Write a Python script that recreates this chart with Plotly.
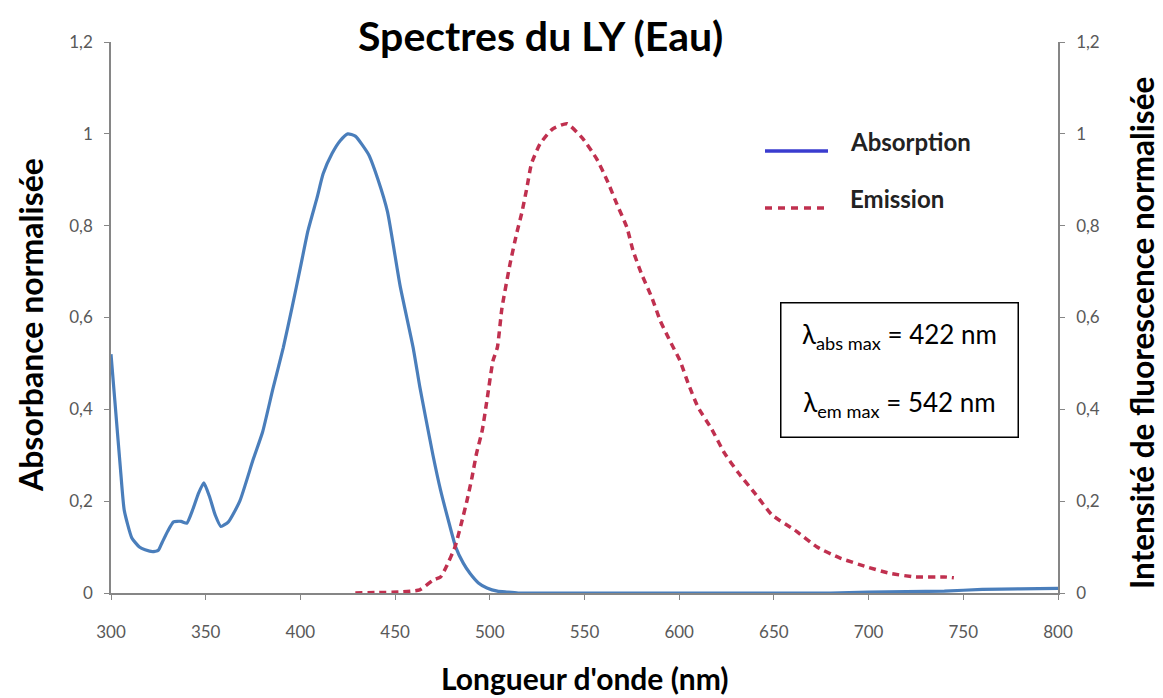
import plotly.graph_objects as go

# Absorption (blue, left axis)
abs_x = [300, 302, 305, 307, 311, 315, 318, 322, 325, 327, 330, 333, 337, 340, 343, 346, 349,
         352, 355, 358, 362, 368, 375, 380, 385.5, 391, 395.6, 400, 404, 408.8, 412, 416.7,
         421, 425, 429, 436, 441, 446, 452.6, 459.5, 463, 466, 470, 474, 478, 482, 486, 489.5,
         494, 498.5, 504, 509, 515, 560, 620, 680, 700, 720, 740, 760, 780, 800]
abs_y = [0.52, 0.42, 0.27, 0.18, 0.12, 0.10, 0.094, 0.09, 0.093, 0.11, 0.135, 0.155, 0.156,
         0.152, 0.18, 0.215, 0.24, 0.21, 0.17, 0.145, 0.155, 0.20, 0.29, 0.35, 0.445, 0.535,
         0.622, 0.709, 0.789, 0.861, 0.913, 0.957, 0.985, 1.0, 0.995, 0.955, 0.90, 0.83, 0.67,
         0.535, 0.45, 0.385, 0.30, 0.224, 0.16, 0.10, 0.065, 0.043, 0.022, 0.011, 0.004, 0.002,
         0.0, 0.0, 0.0, 0.0, 0.002, 0.003, 0.004, 0.008, 0.009, 0.01]

# Emission (red dashed, right axis)
em_x = [429, 440, 452, 463, 470, 474, 477, 481.6, 485, 488, 490.6, 493, 496, 498.5, 501.7,
        504, 506.4, 510.7, 514, 517, 519.6, 522, 526.5, 533, 540.8, 549, 556.5, 562, 567,
        572.4, 575.6, 580, 585.6, 590, 595, 600.4, 604.7, 610, 617, 624, 631, 640, 649, 661,
        672.8, 685, 699, 711, 724.5, 740, 745]
em_y = [0.0, 0.001, 0.002, 0.007, 0.028, 0.035, 0.057, 0.10, 0.152, 0.202, 0.252, 0.304,
        0.354, 0.42, 0.506, 0.535, 0.62, 0.717, 0.78, 0.83, 0.883, 0.935, 0.978, 1.01, 1.022,
        0.99, 0.945, 0.898, 0.848, 0.796, 0.746, 0.696, 0.643, 0.593, 0.55, 0.506, 0.457,
        0.404, 0.358, 0.304, 0.263, 0.217, 0.17, 0.137, 0.10, 0.076, 0.057, 0.043, 0.035,
        0.035, 0.033]

x_ticks = [300, 350, 400, 450, 500, 550, 600, 650, 700, 750, 800]
y_ticks = [0, 0.2, 0.4, 0.6, 0.8, 1.0, 1.2]
y_ticktext = ["0", "0,2", "0,4", "0,6", "0,8", "1", "1,2"]

title_text = "Spectres du LY (Eau)"
x_title = "Longueur d'onde (nm)"
y_title = "Absorbance normalisée"
y2_title = "Intensité de fluorescence normalisée"
legend_names = ["Absorption", "Emission"]
box_text = "λ<sub>abs max</sub> = 422 nm<br><br>λ<sub>em max</sub> = 542 nm"

BLUE = "#4a7ebb"
LEG_BLUE = "#3a3ccf"
RED = "#c0304f"
AXIS = "#868686"
FONT = "Lato, Open Sans, sans-serif"
TICKFONT = dict(family=FONT, size=17, color="#595959")

# the page body has an 8px margin: work in screen pixels, convert to figure pixels
OFF = 8
FIG_W, FIG_H = 1163 - OFF, 698 - OFF
L, R, T, B = 111, 1058, 42, 593          # plot area in screen pixels
W, H = R - L, B - T


def px(x):
    return (x - L) / W


def py(y):
    return (B - y) / H


fig = go.Figure()
fig.add_trace(go.Scatter(x=abs_x, y=abs_y, mode="lines", name=legend_names[0],
                         line=dict(color=BLUE, width=3.2, shape="spline", smoothing=0.5),
                         showlegend=False))
fig.add_trace(go.Scatter(x=em_x, y=em_y, mode="lines", name=legend_names[1], yaxis="y2",
                         line=dict(color=RED, width=3.5, dash="7px,5px", shape="spline",
                                   smoothing=0.5),
                         showlegend=False))

axis_common = dict(showgrid=False, zeroline=False, showline=True, linecolor=AXIS, linewidth=1.5,
                   ticks="outside", ticklen=5, tickcolor=AXIS, tickfont=TICKFONT,
                   automargin=False)

fig.update_layout(
    width=FIG_W, height=FIG_H,
    margin=dict(l=L - OFF, r=FIG_W - (R - OFF), t=T - OFF, b=FIG_H - (B - OFF)),
    paper_bgcolor="white", plot_bgcolor="white",
    xaxis=dict(range=[300, 800], tickvals=x_ticks, ticklabelstandoff=18, **axis_common),
    yaxis=dict(range=[0, 1.2], tickvals=y_ticks, ticktext=y_ticktext, ticklabelstandoff=8,
               **axis_common),
    yaxis2=dict(range=[0, 1.2], tickvals=y_ticks, ticktext=y_ticktext, overlaying="y",
                side="right", ticklabelstandoff=8, **axis_common),
    showlegend=False,
)

# title and axis titles
fig.add_annotation(text="<b>" + title_text + "</b>", xref="paper", yref="paper",
                   x=px(540), y=py(36), xanchor="center", yanchor="middle", showarrow=False,
                   font=dict(family=FONT, size=41, color="black"))
fig.add_annotation(text="<b>" + x_title + "</b>", xref="paper", yref="paper",
                   x=px(585), y=py(678), xanchor="center", yanchor="middle", showarrow=False,
                   font=dict(family=FONT, size=30, color="black"))
fig.add_annotation(text="<b>" + y_title + "</b>", xref="paper", yref="paper",
                   x=px(30), y=py(325), xanchor="center", yanchor="middle", showarrow=False,
                   textangle=-90, font=dict(family=FONT, size=32, color="black"))
fig.add_annotation(text="<b>" + y2_title + "</b>", xref="paper", yref="paper",
                   x=px(1142), y=py(333), xanchor="center", yanchor="middle", showarrow=False,
                   textangle=-90, font=dict(family=FONT, size=31.5, color="black"))

# legend drawn manually
leg_items = [(legend_names[0], LEG_BLUE, "solid", 141),
             (legend_names[1], RED, "7px,6px", 198)]
for name, col, dash, y in leg_items:
    fig.add_shape(type="line", xref="paper", yref="paper",
                  x0=px(765), x1=px(828), y0=py(y + 10), y1=py(y + 10),
                  line=dict(color=col, width=3.5, dash=dash))
    fig.add_annotation(text="<b>" + name + "</b>", xref="paper", yref="paper",
                       x=px(848), y=py(y), xanchor="left", yanchor="middle",
                       showarrow=False, font=dict(family=FONT, size=24, color="#222222"))

fig.add_annotation(text=box_text, xref="paper", yref="paper",
                   x=px(899), y=py(370), xanchor="center", yanchor="middle",
                   showarrow=False, width=232, height=129, align="center",
                   bordercolor="black", borderwidth=1.5, borderpad=2, bgcolor="white",
                   font=dict(family=FONT, size=26, color="black"))

fig.write_html("out.html")
